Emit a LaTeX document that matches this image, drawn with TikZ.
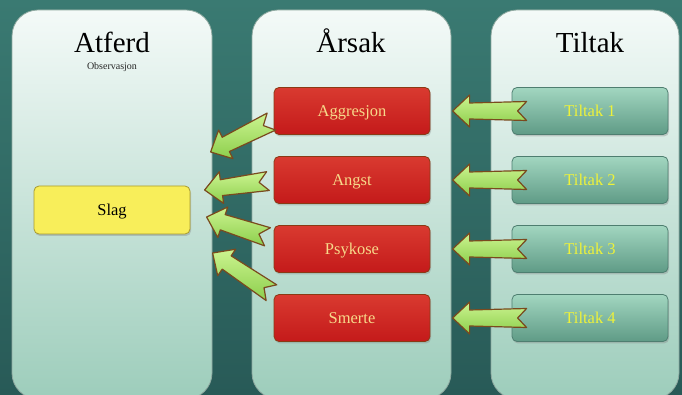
\documentclass[tikz,border=0pt]{standalone}
\usepackage{fontspec}
\setmainfont{Liberation Serif}
\newfontfamily\tnr{Liberation Serif}
\usetikzlibrary{shadows,calc}
\definecolor{bgtop}{HTML}{3A7A72}
\definecolor{bgbot}{HTML}{285A57}
\definecolor{paneltop}{HTML}{F4FAF8}
\definecolor{panelbot}{HTML}{9DCDBB}
\definecolor{paneledge}{HTML}{8FA9A0}
\definecolor{redtop}{HTML}{D93A30}
\definecolor{redbot}{HTML}{C41A1A}
\definecolor{rededge}{HTML}{8A3A14}
\definecolor{redtext}{HTML}{F7D98A}
\definecolor{grntop}{HTML}{A2D6C0}
\definecolor{grnbot}{HTML}{5F9B86}
\definecolor{grnedge}{HTML}{4E7E70}
\definecolor{grntext}{HTML}{EEF23A}
\definecolor{ylw}{HTML}{F8EE5A}
\definecolor{ylwedge}{HTML}{A89A30}
\definecolor{arrtop}{HTML}{CCF490}
\definecolor{arrbot}{HTML}{8CCE4C}
\definecolor{arredge}{HTML}{7A4A1E}
\tikzset{
  panel/.style={draw=paneledge, line width=0.8pt, rounded corners=26pt, top color=paneltop, bottom color=panelbot},
  title/.style={font=\tnr\fontsize{29}{32}\selectfont, anchor=base, text=black},
  sub/.style={font=\tnr\fontsize{10}{12}\selectfont, text=black!85},
  boxtext/.style={font=\tnr\fontsize{16.5}{18}\selectfont, text height=14pt, text depth=2pt, inner sep=0pt},
  causebox/.style={boxtext, draw=rededge, line width=0.8pt, rounded corners=5pt, top color=redtop, bottom color=redbot,
    minimum width=156pt, minimum height=47pt, text=redtext,
    drop shadow={opacity=0.35, shadow xshift=1pt, shadow yshift=-2pt}},
  actbox/.style={boxtext, draw=grnedge, line width=0.8pt, rounded corners=5pt, top color=grntop, bottom color=grnbot,
    minimum width=156pt, minimum height=47pt, text=grntext,
    drop shadow={opacity=0.35, shadow xshift=1pt, shadow yshift=-2pt}},
  obsbox/.style={boxtext, draw=ylwedge, line width=0.8pt, rounded corners=5pt, fill=ylw,
    minimum width=156pt, minimum height=48pt, text=black,
    drop shadow={opacity=0.35, shadow xshift=1pt, shadow yshift=-2pt}},
  blockarrow/.style={draw=arredge, line width=1.2pt, line join=round, top color=arrtop, bottom color=arrbot},
}
\newcommand\blockarr[3]{%
  \begin{scope}[shift={(#1)},rotate=#2]
    \path[blockarrow] (0,0) -- (-17,16) -- (-17,8) -- (-#3,9.5) -- ({-#3+9},0) -- (-#3,-9.5) -- (-17,-8) -- (-17,-16) -- cycle;
  \end{scope}}
\begin{document}
\begin{tikzpicture}[x=1pt,y=1pt]
\useasboundingbox (0,0) rectangle (682,395);
\clip (0,0) rectangle (682,395);
\shade[top color=bgtop, bottom color=bgbot] (0,0) rectangle (682,395);
% panels
\path[panel] (12,-4) rectangle (212,385);
\path[panel] (252,-4) rectangle (451,385);
\path[panel] (491,-4) rectangle (679,385);
\node[title] (tA) at (112,342) {Atferd};
\node[sub] (tObs) at (112,328) {Observasjon};
\node[title] (tB) at (351,342) {Årsak};
\node[title] (tC) at (590,342) {Tiltak};
% boxes
\node[obsbox] (slag) at (112,185) {Slag};
\node[causebox] (c1) at (352,284) {Aggresjon};
\node[causebox] (c2) at (352,215) {Angst};
\node[causebox] (c3) at (352,146) {Psykose};
\node[causebox] (c4) at (352,77) {Smerte};
\node[actbox] (a1) at (590,284) {Tiltak 1};
\node[actbox] (a2) at (590,215) {Tiltak 2};
\node[actbox] (a3) at (590,146) {Tiltak 3};
\node[actbox] (a4) at (590,77) {Tiltak 4};
% arrow tips
\coordinate (p1) at ($(c1.west)+(-63,-41)$);
\coordinate (p2) at ($(c2.west)+(-69,-10)$);
\coordinate (p3) at ($(c3.west)+(-67,32)$);
\coordinate (p4) at ($(c4.west)+(-61,65)$);
\foreach \i in {1,...,4}{\coordinate (q\i) at ($(a\i.west)+(-59,0)$);}
% right arrows
\foreach \i in {1,...,4}{\blockarr{q\i}{180}{74}}
% left arrows
\blockarr{p1}{206.6}{68}
\blockarr{p2}{188}{64}
\blockarr{p3}{162}{64}
\blockarr{p4}{146}{71}
\end{tikzpicture}
\end{document}
